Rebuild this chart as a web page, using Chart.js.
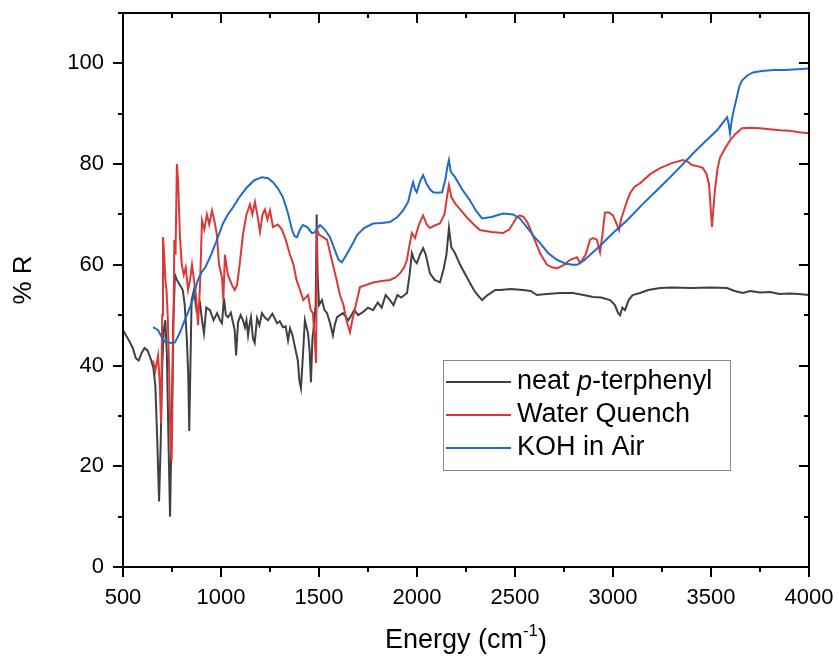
<!DOCTYPE html>
<html>
<head>
<meta charset="utf-8">
<script src="https://cdn.jsdelivr.net/npm/chart.js@4"></script>
<style>
  html, body { margin: 0; padding: 0; background: #fff; }
  #wrap { width: 839px; height: 657px; }
</style>
</head>
<body>
<div id="wrap"><canvas id="chart" width="839" height="657"></canvas></div>
<script>
// series names (legend)
const seriesNames = ['neat p-terphenyl', 'Water Quench', 'KOH in Air'];
const seriesColors = ['#404040', '#dc3838', '#1f6cc8'];

// neat p-terphenyl
const terphenylX = [500, 515, 530, 550, 565, 580, 595, 610, 625, 640, 655, 665, 675, 684, 692, 700, 708, 716, 724, 732, 740, 748, 756, 765, 775, 790, 805, 815, 826, 833, 838, 843, 850, 862, 875, 893, 903, 913, 925, 944, 962, 980, 995, 1005, 1015, 1025, 1036, 1050, 1061, 1070, 1077, 1087, 1100, 1112, 1122, 1130, 1138, 1145, 1153, 1163, 1172, 1184, 1196, 1209, 1225, 1240, 1262, 1286, 1300, 1316, 1330, 1342, 1352, 1365, 1378, 1392, 1400, 1408, 1418, 1428, 1444, 1452, 1459, 1466, 1475, 1483, 1488, 1493, 1500, 1515, 1528, 1541, 1556, 1571, 1580, 1592, 1622, 1650, 1680, 1700, 1720, 1750, 1776, 1800, 1820, 1840, 1862, 1880, 1900, 1920, 1949, 1962, 1974, 1985, 1999, 2015, 2031, 2045, 2066, 2090, 2117, 2135, 2150, 2163, 2175, 2194, 2220, 2255, 2290, 2310, 2332, 2360, 2400, 2423, 2480, 2541, 2580, 2612, 2660, 2730, 2796, 2850, 2898, 2940, 2985, 3010, 3025, 3036, 3048, 3061, 3080, 3100, 3138, 3180, 3240, 3300, 3400, 3500, 3582, 3620, 3663, 3700, 3750, 3801, 3850, 3900, 3950, 4000];
const terphenylY = [47, 46, 45, 43.5, 41.5, 41, 42.5, 43.5, 43, 41.5, 39.5, 36, 25, 13, 24, 40, 47, 49, 42, 25, 10, 28, 48, 58, 57, 56, 55, 52, 45, 38, 27, 38, 53, 55, 51, 52.4, 49, 46.4, 51.5, 51, 49, 50.4, 49, 48.4, 53.4, 50, 49.6, 50.5, 48.6, 47, 42, 48.6, 50, 49, 47.6, 49, 46, 48, 49.6, 45.4, 44.5, 49.4, 48, 50.4, 49.5, 49, 50.3, 48.4, 48.8, 47.6, 47.8, 45, 47.4, 46, 43.5, 41, 37, 35.5, 42, 49, 46.4, 43, 36.7, 45, 48.4, 52, 70, 58, 52, 53, 51, 50.4, 48.5, 46, 48, 49.6, 50.4, 49, 51, 50, 50.5, 51.5, 51, 52.5, 51.5, 54, 53, 52, 54, 53.5, 54.4, 58, 62.3, 61, 60.3, 62, 63.3, 62, 58.3, 57, 56.5, 59, 62, 67.3, 63.5, 62.3, 60, 57.5, 55, 54, 53, 54, 55, 55, 55.2, 55, 54.8, 54, 54.2, 54.4, 54.4, 54, 53.6, 53.5, 53, 52, 50.5, 50, 51.5, 51, 53, 54, 54.4, 55, 55.4, 55.5, 55.4, 55.5, 55.4, 54.8, 54.4, 54.8, 54.5, 54.6, 54.2, 54.3, 54.2, 54];

// Water Quench
const quenchX = [653, 665, 679, 688, 694, 700, 704, 710, 716, 722, 728, 735, 742, 748, 755, 762, 768, 775, 782, 790, 800, 810, 820, 832, 842, 852, 862, 872, 883, 893, 903, 915, 928, 940, 954, 965, 979, 990, 1005, 1012, 1020, 1035, 1056, 1070, 1082, 1095, 1112, 1130, 1148, 1160, 1173, 1185, 1199, 1212, 1224, 1237, 1250, 1265, 1290, 1311, 1330, 1352, 1370, 1385, 1403, 1420, 1444, 1458, 1469, 1478, 1485, 1490, 1500, 1520, 1541, 1556, 1571, 1590, 1607, 1625, 1640, 1658, 1673, 1694, 1709, 1740, 1776, 1820, 1862, 1890, 1913, 1935, 1949, 1962, 1974, 1990, 2010, 2031, 2050, 2066, 2090, 2117, 2140, 2155, 2163, 2175, 2194, 2220, 2255, 2290, 2321, 2380, 2439, 2470, 2490, 2510, 2525, 2545, 2566, 2600, 2628, 2663, 2690, 2714, 2750, 2781, 2816, 2832, 2860, 2883, 2898, 2918, 2934, 2946, 2959, 2980, 3000, 3020, 3031, 3041, 3051, 3070, 3087, 3110, 3138, 3190, 3240, 3300, 3357, 3380, 3403, 3440, 3459, 3478, 3490, 3497, 3505, 3512, 3520, 3533, 3546, 3570, 3597, 3625, 3658, 3700, 3750, 3800, 3850, 3900, 3950, 4000];
const quenchY = [41, 39, 42, 36, 28.6, 50, 65.5, 62, 57, 55, 50, 40, 25, 21, 40, 65, 62, 80, 76, 66, 60, 58, 59.5, 55, 57, 60, 57, 54, 48, 56, 68.8, 67, 70, 68, 70.8, 69, 66, 60, 57.5, 53, 62, 58, 56, 55, 56, 60, 66, 70, 72, 70, 72.5, 70, 66.5, 70, 71, 69, 70.8, 67.5, 68, 67, 65, 62, 60, 57, 55, 53, 54, 51, 50.4, 45, 40.5, 67, 66, 65.5, 65, 62.5, 60, 57, 54, 52, 49, 46.6, 49.6, 53, 55.6, 56, 56.5, 56.8, 57, 57.5, 58.3, 59.5, 61, 64, 66.3, 65.3, 68, 69.8, 68, 67.3, 67.8, 68.2, 70, 74, 75.8, 73.5, 72.2, 71, 69.4, 68, 66.9, 66.5, 66.3, 67, 68.2, 69.5, 69.8, 69.5, 68.2, 65, 62.3, 60, 59.5, 59.3, 60, 61, 61.5, 60.3, 62, 65, 65.3, 65, 62.5, 66, 70.4, 70.4, 69.8, 68, 66.9, 69, 70.2, 72.5, 74.2, 75.5, 76.2, 78, 79.2, 80.2, 80.8, 80.5, 79.8, 79.5, 79.2, 78, 76, 72, 67.5, 71, 74.8, 79, 81.3, 83, 84.7, 86, 87.1, 87.2, 87.1, 86.9, 86.7, 86.6, 86.3, 86.1];

// KOH in Air
const kohX = [653, 665, 679, 695, 710, 724, 745, 765, 790, 810, 832, 855, 878, 900, 920, 944, 975, 1010, 1035, 1061, 1095, 1133, 1170, 1209, 1240, 1265, 1290, 1316, 1340, 1362, 1375, 1388, 1403, 1418, 1440, 1464, 1480, 1505, 1530, 1556, 1580, 1600, 1617, 1640, 1673, 1694, 1730, 1776, 1820, 1862, 1900, 1929, 1955, 1970, 1980, 1990, 1999, 2015, 2031, 2050, 2066, 2082, 2105, 2128, 2145, 2155, 2163, 2172, 2194, 2230, 2270, 2300, 2332, 2380, 2439, 2490, 2525, 2560, 2600, 2628, 2670, 2714, 2760, 2796, 2816, 2850, 2898, 2934, 3000, 3071, 3150, 3240, 3320, 3408, 3470, 3531, 3560, 3582, 3590, 3597, 3605, 3612, 3630, 3645, 3658, 3685, 3714, 3760, 3820, 3880, 3918, 3960, 4000];
const kohY = [47.6, 47.4, 47, 45.8, 44.8, 44.6, 44.5, 44.6, 46.5, 48.5, 50.6, 53, 56.5, 58.5, 59.5, 61.5, 64.5, 68.2, 70, 71.4, 73.5, 75.4, 76.8, 77.4, 77.2, 76.4, 75.2, 73.4, 70.5, 67, 65.7, 65.5, 67, 67.9, 67.5, 66.3, 66.5, 67.9, 67, 65.5, 63, 61, 60.5, 62, 64.3, 65.9, 67.3, 68.2, 68.3, 68.5, 69.5, 70.8, 72.5, 75, 76.4, 75, 74.4, 76.5, 77.8, 76, 75, 74.4, 74.3, 74.4, 77, 79.5, 80.8, 78.5, 77.4, 75, 72.8, 70.8, 69.2, 69.5, 70.2, 70, 69.2, 67.5, 65.5, 64.3, 62.3, 61, 60.2, 60, 60, 60.8, 62.5, 63.8, 66.3, 68.8, 72, 75.4, 78.5, 82.1, 84.5, 86.7, 88.2, 89.3, 88, 86.1, 88.5, 90, 93, 95.5, 96.6, 97.6, 98.2, 98.5, 98.7, 98.7, 98.8, 98.9, 99];

// axis ticks
const xTicks = [500, 1000, 1500, 2000, 2500, 3000, 3500, 4000];
const yTicks = [0, 20, 40, 60, 80, 100];

const FONT = "'Liberation Sans', Arial, sans-serif";

function toPoints(xs, ys) {
  return xs.map((x, i) => ({ x: x, y: ys[i] }));
}

// frame with in/out ticks (minor ticks as well)
const framePlugin = {
  id: 'frame',
  afterDatasetsDraw(chart) {
    const ctx = chart.ctx;
    const xs = chart.scales.x, ys = chart.scales.y;
    const a = chart.chartArea;
    ctx.save();
    ctx.strokeStyle = '#000';
    ctx.lineWidth = 2;
    ctx.strokeRect(a.left, a.top, a.right - a.left, a.bottom - a.top);
    ctx.beginPath();
    for (let v = 500; v <= 4000; v += 250) {
      const px = Math.round(xs.getPixelForValue(v));
      const len = v % 500 === 0 ? 10 : 5;
      ctx.moveTo(px, a.bottom); ctx.lineTo(px, a.bottom + len);
      ctx.moveTo(px, a.top); ctx.lineTo(px, a.top + len);
    }
    for (let v = 0; v <= 110; v += 10) {
      const py = Math.round(ys.getPixelForValue(v));
      const len = (v % 20 === 0 && v <= 100) ? 10 : 5;
      ctx.moveTo(a.left, py); ctx.lineTo(a.left - len, py);
      ctx.moveTo(a.right, py); ctx.lineTo(a.right - len, py);
    }
    ctx.stroke();

    // axis titles
    ctx.fillStyle = '#000';
    ctx.textBaseline = 'middle';
    ctx.font = '27px ' + FONT;
    const main = 'Energy (cm', sup = '-1', close = ')';
    const w1 = ctx.measureText(main).width;
    const w3 = ctx.measureText(close).width;
    ctx.font = '17px ' + FONT;
    const w2 = ctx.measureText(sup).width;
    let x0 = (a.left + a.right) / 2 - (w1 + w2 + w3) / 2;
    const ty = 641;
    ctx.font = '27px ' + FONT;
    ctx.textAlign = 'left';
    ctx.fillText(main, x0, ty);
    ctx.font = '17px ' + FONT;
    ctx.fillText(sup, x0 + w1, ty - 10);
    ctx.font = '27px ' + FONT;
    ctx.fillText(close, x0 + w1 + w2, ty);

    ctx.translate(24, 280);
    ctx.rotate(-Math.PI / 2);
    ctx.textAlign = 'center';
    ctx.font = '26px ' + FONT;
    ctx.fillText('% R', 0, 0);
    ctx.restore();
  }
};

// legend box inside the plot
const legendPlugin = {
  id: 'boxLegend',
  afterDraw(chart) {
    const ctx = chart.ctx;
    const bx = 443, by = 360, bw = 287, bh = 110;
    ctx.save();
    ctx.fillStyle = '#fff';
    ctx.fillRect(bx, by, bw, bh);
    ctx.strokeStyle = '#888';
    ctx.lineWidth = 1;
    ctx.strokeRect(bx + 0.5, by + 0.5, bw, bh);
    ctx.textBaseline = 'middle';
    ctx.textAlign = 'left';
    chart.data.datasets.forEach((ds, i) => {
      const y = by + 22 + i * 33;
      ctx.strokeStyle = ds.borderColor;
      ctx.lineWidth = 2;
      ctx.beginPath();
      ctx.moveTo(bx + 3, y);
      ctx.lineTo(bx + 68, y);
      ctx.stroke();
      ctx.fillStyle = '#000';
      let tx = bx + 74;
      if (i === 0) {
        // "neat p-terphenyl" with italic p
        const parts = [['neat ', ''], ['p', 'italic '], ['-terphenyl', '']];
        parts.forEach(p => {
          ctx.font = p[1] + '27px ' + FONT;
          ctx.fillText(p[0], tx, y);
          tx += ctx.measureText(p[0]).width;
        });
      } else {
        ctx.font = '27px ' + FONT;
        ctx.fillText(ds.label, tx, y);
      }
    });
    ctx.restore();
  }
};

new Chart(document.getElementById('chart'), {
  type: 'line',
  data: {
    datasets: [
      { label: seriesNames[0], data: toPoints(terphenylX, terphenylY), borderColor: seriesColors[0], order: 3 },
      { label: seriesNames[1], data: toPoints(quenchX, quenchY), borderColor: seriesColors[1], order: 2 },
      { label: seriesNames[2], data: toPoints(kohX, kohY), borderColor: seriesColors[2], order: 1 }
    ]
  },
  options: {
    responsive: false,
    animation: false,
    parsing: false,
    elements: {
      point: { radius: 0 },
      line: { borderWidth: 2, tension: 0, fill: false }
    },
    layout: { padding: { left: 0, right: 30, top: 13, bottom: 0 } },
    plugins: {
      legend: { display: false },
      tooltip: { enabled: false }
    },
    scales: {
      x: {
        type: 'linear',
        min: 500,
        max: 4000,
        grid: { display: false, drawTicks: false },
        border: { display: false },
        afterBuildTicks: s => { s.ticks = xTicks.map(v => ({ value: v })); },
        afterFit: s => { s.height = 90; s.paddingLeft = 0; s.paddingRight = 0; },
        ticks: { color: '#000', font: { family: FONT, size: 22 }, padding: 18, maxRotation: 0,
          callback: v => String(v) }
      },
      y: {
        type: 'linear',
        min: 0,
        max: 110,
        grid: { display: false, drawTicks: false },
        border: { display: false },
        afterBuildTicks: s => { s.ticks = yTicks.map(v => ({ value: v })); },
        afterFit: s => { s.width = 123; s.paddingTop = 0; s.paddingBottom = 0; },
        ticks: { color: '#000', font: { family: FONT, size: 22 }, padding: 19,
          callback: v => String(v) }
      }
    }
  },
  plugins: [framePlugin, legendPlugin]
});
</script>
</body>
</html>
